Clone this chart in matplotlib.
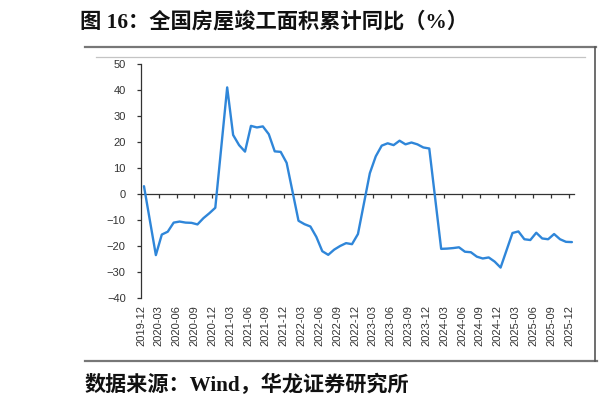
import matplotlib
matplotlib.use("Agg")
import matplotlib.pyplot as plt
from matplotlib.lines import Line2D

# ---- data (cumulative YoY of national housing completion area, %) ----
months = [
    "2019-12",
    "2020-02", "2020-03", "2020-04", "2020-05", "2020-06", "2020-07",
    "2020-08", "2020-09", "2020-10", "2020-11", "2020-12",
    "2021-02", "2021-03", "2021-04", "2021-05", "2021-06", "2021-07",
    "2021-08", "2021-09", "2021-10", "2021-11", "2021-12",
    "2022-02", "2022-03", "2022-04", "2022-05", "2022-06", "2022-07",
    "2022-08", "2022-09", "2022-10", "2022-11", "2022-12",
    "2023-02", "2023-03", "2023-04", "2023-05", "2023-06", "2023-07",
    "2023-08", "2023-09", "2023-10", "2023-11", "2023-12",
    "2024-02", "2024-03", "2024-04", "2024-05", "2024-06", "2024-07",
    "2024-08", "2024-09", "2024-10", "2024-11", "2024-12",
    "2025-02", "2025-03", "2025-04", "2025-05", "2025-06", "2025-07",
    "2025-08", "2025-09", "2025-10", "2025-11", "2025-12",
]
values = [
    3.0,
    -23.5, -15.6, -14.5, -11.0, -10.6, -11.0,
    -11.1, -11.7, -9.3, -7.4, -5.3,
    41.0, 22.7, 18.8, 16.3, 26.2, 25.6,
    26.0, 23.0, 16.4, 16.2, 12.0,
    -10.3, -11.6, -12.5, -16.5, -22.0, -23.4,
    -21.4, -20.0, -18.9, -19.3, -15.4,
    8.0, 14.5, 18.6, 19.5, 18.8, 20.5,
    19.1, 19.8, 19.1, 17.9, 17.5,
    -21.1, -21.0, -20.8, -20.5, -22.2, -22.4,
    -24.1, -24.8, -24.4, -26.0, -28.3,
    -15.0, -14.4, -17.4, -17.7, -14.9, -17.1,
    -17.4, -15.4, -17.4, -18.4, -18.5,
]
tick_labels = [
    "2019-12", "2020-03", "2020-06", "2020-09", "2020-12",
    "2021-03", "2021-06", "2021-09", "2021-12",
    "2022-03", "2022-06", "2022-09", "2022-12",
    "2023-03", "2023-06", "2023-09", "2023-12",
    "2024-03", "2024-06", "2024-09", "2024-12",
    "2025-03", "2025-06", "2025-09", "2025-12",
]
y_ticks = [-40, -30, -20, -10, 0, 10, 20, 30, 40, 50]

title = "图 16：全国房屋竣工面积累计同比（%）"
source = "数据来源：Wind，华龙证券研究所"


def month_index(s):
    y, m = s.split("-")
    return (int(y) - 2019) * 12 + int(m) - 12


W, H = 599, 409
fig = plt.figure(figsize=(W / 100, H / 100), dpi=100)
fig.patch.set_facecolor("white")

ax = fig.add_axes([141 / W, 1 - 298 / H, 433 / W, 234 / H])
x = [month_index(m) + 0.5 for m in months]
ax.plot(x, values, color="#2f86d9", lw=1.7,
        solid_joinstyle="round", solid_capstyle="round")

ymin, ymax = -40, 50
ax.set_ylim(ymin, ymax)
ax.set_xlim(0, 72.85)
ax.set_yticks(y_ticks)
ax.set_xticks([month_index(t) for t in tick_labels])
ax.set_xticklabels(tick_labels, rotation=90, fontsize=8,
                   family="Liberation Sans", color="#333333")
for lab in ax.get_yticklabels():
    lab.set_family("Liberation Sans")
ax.tick_params(axis="x", length=0, pad=5)
for s in ["top", "right", "bottom"]:
    ax.spines[s].set_visible(False)
ax.spines["left"].set_color("#333333")
ax.spines["left"].set_linewidth(0.9)
ax.tick_params(axis="y", direction="out", length=3, width=0.9,
               color="#333333", labelsize=8, labelcolor="#333333", pad=8)

# zero axis with tick marks
sec = ax.secondary_xaxis((0 - ymin) / (ymax - ymin))
sec.set_xticks([month_index(t) for t in tick_labels])
sec.tick_params(axis="x", direction="out", length=3, width=0.9,
                color="#333333", labelbottom=False, labeltop=False)
for s in sec.spines.values():
    s.set_color("#333333")
    s.set_linewidth(0.9)

# page frame decorations
def hline(y, x0, x1, color, lw):
    fig.add_artist(Line2D([x0 / W, x1 / W], [1 - y / H, 1 - y / H],
                          transform=fig.transFigure, color=color, lw=lw))

hline(47, 85, 596, "#777777", 1.6)
hline(57, 96, 585, "#c4c4c4", 0.9)
hline(361, 85, 597, "#777777", 1.6)
fig.add_artist(Line2D([595 / W, 595 / W], [1 - 47 / H, 1 - 361 / H],
                      transform=fig.transFigure, color="#555555", lw=1.2))

fam = ["Liberation Serif", "Noto Sans CJK SC"]
fig.text(80 / W, 1 - 22 / H, title, family=fam, weight="bold",
         fontsize=15.3, va="center", ha="left", color="#111111")
fig.text(85 / W, 1 - 385 / H, source, family=fam, weight="bold",
         fontsize=15.2, va="center", ha="left", color="#111111")

fig.savefig("out.png", dpi=100, facecolor="white")
